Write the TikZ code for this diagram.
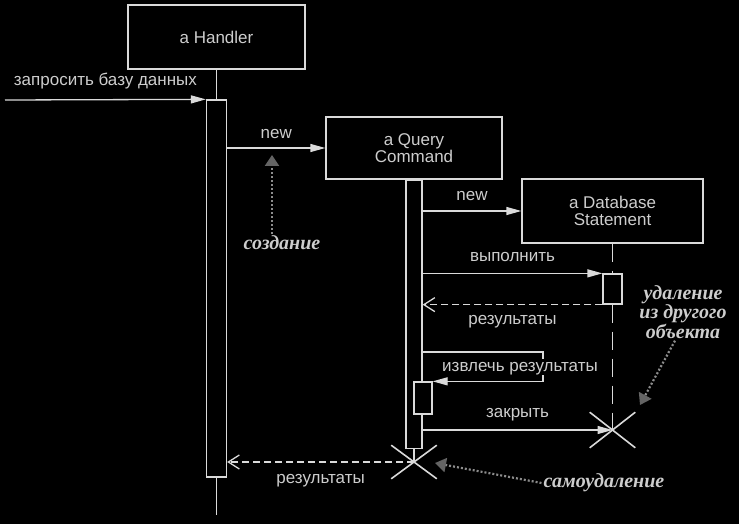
\documentclass[tikz,border=0pt]{standalone}
\usepackage{fontspec}
\setmainfont{Liberation Sans}
\newfontfamily\notefont{Liberation Serif}
\usetikzlibrary{arrows.meta, positioning, shapes.misc}
\definecolor{linecolor}{RGB}{218,218,218}
\definecolor{textcolor}{RGB}{205,205,205}
\definecolor{notecolor}{RGB}{140,140,140}
\definecolor{notetip}{RGB}{100,100,100}
\tikzset{
  obj/.style      = {draw=linecolor, line width=1.3pt, fill=black, text=textcolor,
                     align=center, inner sep=0pt},
  act/.style      = {draw=linecolor, line width=1.3pt, fill=black, inner sep=0pt},
  life/.style     = {draw=linecolor, line width=1.3pt},
  dlife/.style    = {life, dash pattern=on 18pt off 9pt},
  msg/.style      = {-{Triangle[length=15pt, width=8pt]}, line width=1.3pt, color=linecolor},
  ret/.style      = {-{Straight Barb[length=11pt, width=14pt]}, line width=1.3pt,
                     color=linecolor, dash pattern=on 7pt off 4pt},
  lbl/.style      = {text=textcolor, inner sep=0pt, text height=12.5pt, text depth=3.5pt},
  xmark/.style    = {cross out, draw=linecolor, line width=1.6pt, minimum width=44pt,
                     minimum height=32pt, inner sep=0pt},
  note/.style     = {text=textcolor, font=\notefont\bfseries\itshape\fontsize{20}{16}\selectfont,
                     align=center, inner sep=2pt},
  noteline/.style = {-{Triangle[length=11pt, width=14pt, color=notetip]}, line width=2.2pt,
                     color=notecolor, dash pattern=on 2pt off 2pt},
}

\begin{document}
\begin{tikzpicture}[x=1pt, y=-1pt, every node/.style={font=\fontsize{17}{17.5}\selectfont}]
  \path[use as bounding box, fill=black] (0,0) rectangle (739,524);

  \node[obj, minimum width=177pt, minimum height=64pt] (handler) at (216.5,37) {a Handler};
  \node[act, minimum width=20pt, minimum height=377pt] (hbar) at (216.5,288.5) {};
  \node[obj, minimum width=176pt, minimum height=62pt] (query) at (414,148) {a Query\\Command};
  \node[act, minimum width=16pt, minimum height=268pt, below=0pt of query] (qbar) {};
  \node[obj, minimum width=181pt, minimum height=64pt] (dbase) at (612.5,211) {a Database\\Statement};
  \node[act, minimum width=19pt, minimum height=30pt] (dbbar) at (612.5,289) {};
  \node[act, minimum width=18pt, minimum height=32pt] (nest) at (423,398) {};
  \node[xmark] (qx) at (414,462) {};
  \node[xmark, minimum height=34pt] (dbx) at (612.5,430) {};

  \coordinate (start) at (5,100);
  \coordinate (hend) at (216.5,515);
  \coordinate (loop) at (543,352);

  \draw[life] (handler) -- (hbar);
  \draw[life] (hbar) -- (hend);
  \draw[life] (qbar) -- (qx.center);
  \draw[dlife] (dbase) -- (dbbar);
  \draw[dlife] (dbbar) -- (dbx.center);

  \draw[msg] (start) -- node[lbl, above=10pt] (ask) {запросить базу данных} (hbar.north west);
  \draw[msg] (hbar.east |- query.west) -- node[lbl, above=5pt] (new1) {new} (query.west);
  \draw[msg] (qbar.east |- dbase.west) -- node[lbl, above=6pt] (new2) {new} (dbase.west);
  \draw[msg] (qbar.east |- dbbar.north west) -- node[lbl, above=8pt] (run) {выполнить} (dbbar.north west);
  \draw[ret] (dbbar.south west) -- node[lbl, below=7pt] (res1) {результаты} (qbar.east |- dbbar.south west);
  \draw[msg] (qbar.east |- loop) -- (loop) |- (nest.north east);
  \node[lbl, fill=black] (fetch) at (520,367) {извлечь результаты};
  \draw[msg] (qbar.east |- dbx) -- node[lbl, above=8pt] (close) {закрыть} (dbx.center);
  \draw[ret] (qx.center) -- node[lbl, below=8pt] (res2) {результаты} (hbar.east |- qx.center);

  \node[note] (create) at (282,243) {создание};
  \coordinate (createtip) at (272,155);
  \draw[noteline] (create.north -| createtip) -- (createtip);
  \node[note] (remote) at (683,312) {удаление\\из другого\\объекта};
  \coordinate (remotetip) at (640,405);
  \draw[noteline] ([xshift=-8pt]remote.south) -- (remotetip);
  \node[note] (self) at (604,483) {самоудаление};
  \coordinate (selftip) at (435,463);
  \draw[noteline] (self.west) -- (selftip);
\end{tikzpicture}
\end{document}
